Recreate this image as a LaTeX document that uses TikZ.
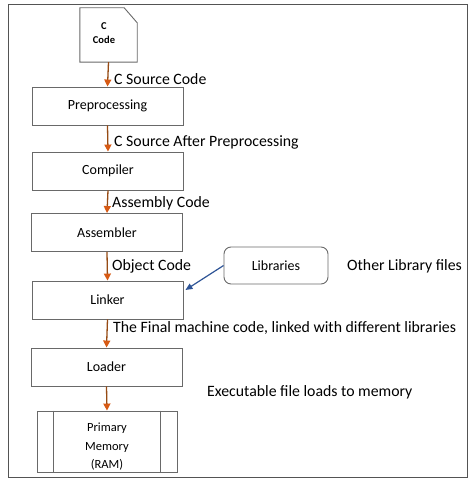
\documentclass[tikz,border=0pt]{standalone}
\usepackage{fontspec}
\setmainfont{Carlito}
\usetikzlibrary{arrows.meta}
\definecolor{boxgray}{RGB}{105,105,105}
\definecolor{arrbrown}{RGB}{150,75,20}
\definecolor{tiporange}{RGB}{215,90,20}
\definecolor{libblue}{RGB}{46,84,150}
\tikzset{
  stepbox/.style={draw=boxgray, line width=0.9pt, minimum width=151pt, minimum height=38pt, font=\fontsize{14}{16}\selectfont, inner sep=0pt},
  flow/.style={draw=arrbrown, line width=1.3pt, -{Triangle[length=7pt,width=7pt,color=tiporange]}},
  elabel/.style={anchor=west, font=\fontsize{15.8}{18}\selectfont, inner sep=0pt},
  libarrow/.style={draw=libblue, line width=1.2pt, -{Triangle[length=7pt,width=6pt]}}
}
\begin{document}
\begin{tikzpicture}[x=1pt,y=-1pt]
\useasboundingbox (0,0) rectangle (474,484);
\draw[boxgray!80!black, line width=1pt] (8,5) rectangle (467,477);
% C code document
\node[minimum width=57pt, minimum height=54pt, inner sep=0pt] (doc) at (108.5,35) {};
\draw[boxgray, line width=0.9pt] (doc.south west) -- (doc.north west) -- ([xshift=-13pt]doc.north east) -- ([yshift=-15pt]doc.north east) -- (doc.south east) -- cycle;
\node[font=\fontsize{10.5}{14}\selectfont\bfseries, align=center] (doctext) at (104,33) {C\\Code};
% steps
\node[stepbox] (prep) at (107.5,106) {Preprocessing};
\node[stepbox] (comp) at (108,171) {Compiler};
\node[stepbox] (asm) at (107,232.5) {Assembler};
\node[stepbox] (link) at (107.5,300) {Linker};
\node[stepbox] (load) at (106.5,367) {Loader};
\node[stepbox, minimum width=140pt, minimum height=61pt] (mem) at (107,441.5) {};
\draw[boxgray, line width=0.9pt] ([xshift=17pt]mem.north west) -- ([xshift=17pt]mem.south west);
\draw[boxgray, line width=0.9pt] ([xshift=-17pt]mem.north east) -- ([xshift=-17pt]mem.south east);
\begin{scope}
\clip ([yshift=0.5pt]mem.south west) rectangle (mem.north east);
\node[font=\fontsize{12.5}{18.5}\selectfont, align=center] (memtext) at (107,447) {Primary\\Memory\\(RAM)};
\end{scope}
% libraries
\node[draw=boxgray, line width=0.9pt, rounded corners=7pt, minimum width=104pt, minimum height=37pt, font=\fontsize{14}{16}\selectfont] (libs) at (276,265.5) {Libraries};
\node[elabel] (otherlib) at (347,266) {Other Library files};
% flow arrows
\draw[flow] (doc.south) -- (prep.north);
\draw[flow] (prep.south) -- (comp.north);
\draw[flow] (comp.south) -- (asm.north);
\draw[flow] (asm.south) -- (link.north);
\draw[flow] (link.south) -- (load.north);
\draw[flow] (load.south) -- (mem.north);
\draw[libarrow] (libs.west) -- ([xshift=2pt,yshift=10pt]link.east);
% edge labels
\node[elabel] (l1) at (114,79) {C Source Code};
\node[elabel] (l2) at (114,142) {C Source After Preprocessing};
\node[elabel] (l3) at (112,203) {Assembly Code};
\node[elabel] (l4) at (112,266) {Object Code};
\node[elabel] (l5) at (113,328) {The Final machine code, linked with different libraries};
\node[elabel] (l6) at (207,392) {Executable file loads to memory};
\end{tikzpicture}
\end{document}
